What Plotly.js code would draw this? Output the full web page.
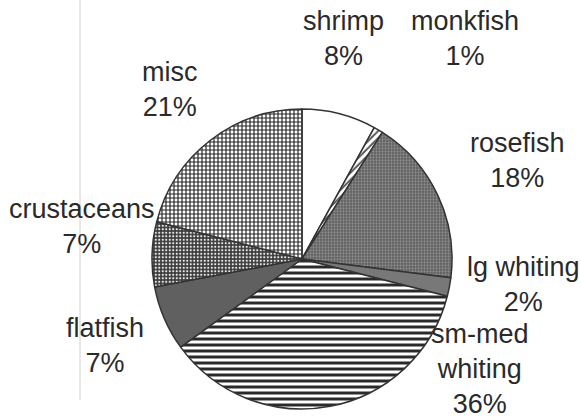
<!DOCTYPE html>
<html>
<head>
<meta charset="utf-8">
<script src="https://cdn.plot.ly/plotly-3.0.1.min.js"></script>
<style>
  html, body { margin: 0; padding: 0; background: #fff; }
  #chart { width: 581px; height: 420px; }
</style>
</head>
<body>
<div id="chart"></div>
<script>
// Catch composition by species group (percent of total)
const categories = ["shrimp", "monkfish", "rosefish", "lg whiting", "sm-med whiting", "flatfish", "crustaceans", "misc"];
const shares = [8, 1, 18, 2, 36, 7, 7, 21];
// Label text per slice (line breaks where the name wraps)
const labelNames = ["shrimp", "monkfish", "rosefish", "lg whiting", "sm-med<br>whiting", "flatfish", "crustaceans", "misc"];

// Fill styling per slice, monochrome print look
const fillBg   = ["#ffffff", "#ffffff", "#5e5e5e", "#787878", "#ffffff", "#606060", "#3a3a3a", "#ffffff"];
const fillFg   = ["#ffffff", "#555555", "#8c8c8c", "#787878", "#2a2a2a", "#606060", "#ececec", "#262626"];
const fillShape= ["",        "/",       ".",       "",        "-",       "",        ".",       "+"];
const fillSize = [8,         5,         3,         8,         6,         8,         3.5,       4];
const fillSolid= [0.3,       0.4,       0.45,      0.3,       0.5,       0.3,       0.32,      0.5];

// Label anchor points in page pixels (centre of each text block)
const labelPx = [[343, 38], [465, 38], [517, 160], [523, 284], [480, 369], [105, 345], [82, 226], [170, 89]];

const W = 581, H = 420;
const cx = 302, cy = 259, r = 150;

const trace = {
  type: "pie",
  labels: categories,
  values: shares,
  sort: false,
  direction: "clockwise",
  rotation: 0,
  textinfo: "none",
  hoverinfo: "label+percent",
  showlegend: false,
  domain: {
    x: [(cx - r) / W, (cx + r) / W],
    y: [(H - cy - r) / H, (H - cy + r) / H]
  },
  marker: {
    colors: fillBg,
    line: { color: "#333333", width: 1.5 },
    pattern: {
      shape: fillShape,
      fgcolor: fillFg,
      bgcolor: fillBg,
      size: fillSize,
      solidity: fillSolid,
      fillmode: "replace"
    }
  }
};

const annotations = categories.map((c, i) => ({
  xref: "paper", yref: "paper",
  x: labelPx[i][0] / W,
  y: 1 - labelPx[i][1] / H,
  xanchor: "center", yanchor: "middle",
  text: labelNames[i] + "<br>" + Math.round(shares[i]) + "%",
  showarrow: false,
  align: "center",
  font: { family: "Liberation Sans, Arial, sans-serif", size: 27, color: "#2a2a2a" }
}));

const layout = {
  width: W, height: H,
  margin: { l: 0, r: 0, t: 0, b: 0 },
  paper_bgcolor: "#ffffff",
  plot_bgcolor: "#ffffff",
  annotations: annotations,
  shapes: [{
    type: "line", xref: "paper", yref: "paper",
    x0: 80 / W, x1: 80 / W, y0: 1 - 400 / H, y1: 1,
    line: { color: "#d0d0d0", width: 1 }
  }]
};

Plotly.newPlot("chart", [trace], layout, { displayModeBar: false, staticPlot: true });
</script>
</body>
</html>
